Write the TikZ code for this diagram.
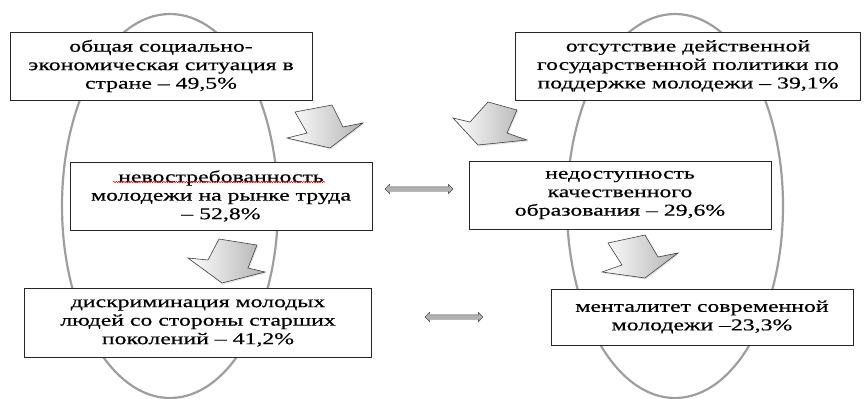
\documentclass[tikz,border=0pt]{standalone}
\usepackage{fontspec}
\newfontfamily\boxfont[FakeStretch=1.44,FakeBold=0.5,Ligatures=TeX]{Liberation Serif}
\usetikzlibrary{shapes.arrows,shadows,decorations.pathmorphing}

\begin{document}
\begin{tikzpicture}[x=1pt,y=-1pt,
  factor/.style={draw=black!85, fill=white, align=center, inner sep=0pt, minimum height=68pt, font=\boxfont\fontsize{16.5}{18.5}\selectfont},
  bigarrow/.style={draw=black!75, line width=0.6pt, left color=white, right color=black!30, drop shadow={opacity=0.2, shadow xshift=1pt, shadow yshift=-1.5pt}},
  twoway/.style={double arrow, draw=black!70, fill=black!30, inner sep=2pt, minimum height=#1, double arrow head extend=2.5pt},
  oval/.style={draw=black!38, line width=2.2pt}]
% image size 865 x 399, y grows downwards
\useasboundingbox (0,0) rectangle (865,399);

\draw[oval] (170,206) ellipse [x radius=108, y radius=192];
\draw[oval] (675,206) ellipse [x radius=108, y radius=192];

\node[factor, minimum width=302pt] (general) at (161,66) {общая  социально-\hspace{16pt}\\экономическая ситуация в\\стране – 49,5\%};
\node[factor, minimum width=345pt] (policy) at (688,66) {отсутствие действенной\\государственной политики по\\поддержке молодежи – 39,1\%};
\node[factor, minimum width=302pt] (demand) at (221,196) {невостребованность\\молодежи на рынке труда\\– 52,8\%};
\node[factor, minimum width=302pt] (education) at (620,195) {недоступность\hspace{60pt}\\качественного\\образования – 29,6\%};
\node[factor, minimum width=347pt, minimum height=69pt] (discrim) at (198,323) {дискриминация молодых\\людей со стороны старших\\поколений – 41,2\%};
\node[factor, minimum width=302pt, minimum height=56pt] (mentality) at (702,317) {менталитет современной\\молодежи –23,3\%};

\draw[red, line width=0.5pt, decorate, decoration={snake, amplitude=0.7pt, segment length=2.5pt}] (113,182) -- (325,182);

\draw[bigarrow] (295,112) -- (332,105) -- (343,127) -- (363,123) -- (330,148) -- (287,138) -- (307,133) -- cycle;
\draw[bigarrow] (488,102) -- (517,110) -- (507,133) -- (527,140) -- (478,145) -- (453,118) -- (470,122) -- cycle;
\draw[bigarrow] (219,239) -- (257,245) -- (248,268) -- (265,272) -- (222,283) -- (188,258) -- (208,260) -- cycle;
\draw[bigarrow] (608,243) -- (645,235) -- (658,257) -- (678,253) -- (645,278) -- (602,272) -- (622,265) -- cycle;

\node[twoway=68pt] (link1) at (419,189) {};
\node[twoway=58pt] (link2) at (454,317) {};
\end{tikzpicture}
\end{document}
